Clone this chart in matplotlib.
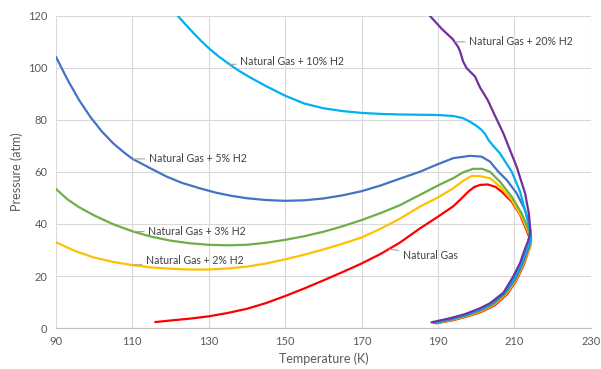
import matplotlib.pyplot as plt

plt.rcParams['font.family'] = ['Lato', 'DejaVu Sans']

# Natural Gas
ng_t = [116, 120, 125, 130, 135, 140, 145, 150, 155, 160, 165, 170, 175, 180, 185.3, 190, 194, 196,
        198, 199.5, 201, 203, 205, 206.7, 209.3, 211.5, 213, 213.9, 214.3, 214.1, 213.6, 212.5, 210.5,
        208.1, 204.8, 201, 197, 193.9, 189.5]
ng_p = [2.3, 2.9, 3.6, 4.5, 5.8, 7.4, 9.6, 12.3, 15.2, 18.3, 21.5, 24.8, 28.5, 32.8, 38.3, 42.8, 46.8, 49.6,
        52.5, 54.2, 55, 55.2, 54.3, 52.4, 48.6, 43.5, 38.3, 35, 33, 31, 29.3, 24.5, 18.2,
        13, 8.7, 6, 4.2, 3, 1.8]

# Natural Gas + 2% H2
h2_t = [90, 95, 100, 105, 110, 115, 120, 125, 130, 135, 140, 145, 150, 155, 160, 165, 170, 175,
        180, 185.3, 190, 194, 196.5, 198.8, 201, 203.6, 206.2, 209.3, 211.9, 213.6, 214.4, 214.1,
        213.6, 212.4, 210.4, 208, 204.6, 201, 197, 193.7, 189.4]
h2_p = [33, 29.6, 27.1, 25.4, 24.2, 23.3, 22.8, 22.5, 22.5, 22.9, 23.6, 24.8, 26.4, 28.2, 30.2, 32.4, 34.8, 38.2,
        42, 46.7, 50.2, 53.7, 56.5, 58.5, 58.4, 57.6, 54.5, 49.2, 42.8, 37, 33.5, 31,
        29.6, 24.8, 18.4, 13.3, 8.9, 6.3, 4.4, 3.1, 1.9]

# Natural Gas + 3% H2
h3_t = [90, 93, 96, 100, 105, 110, 115, 120, 125, 130, 135, 140, 145, 150, 155, 160, 165, 170, 175,
        180, 185.3, 190, 194, 196.5, 199.2, 201.5, 203.6, 206.2, 209.3, 211.9, 213.5, 214.4, 214,
        213.5, 212.3, 210.3, 207.8, 204.4, 201, 197, 193.5, 189.2]
h3_p = [53.5, 49.5, 46.5, 43.3, 39.9, 37.2, 35.1, 33.6, 32.6, 32, 31.8, 32, 32.8, 33.9, 35.3, 37, 39.1, 41.5, 44.2,
        47.2, 51.2, 54.8, 57.6, 59.8, 61.2, 61.2, 60.1, 56.3, 50.5, 44.1, 38.5, 34, 31.5,
        29.8, 25, 18.7, 13.5, 9.1, 6.6, 4.6, 3.2, 1.9]

# Natural Gas + 5% H2
h5_t = [90, 93, 96, 99, 102, 105, 108, 110.1, 115, 119, 123, 127.7, 132, 136, 140, 145, 150, 155, 160, 165,
        170, 175, 180, 185.3, 190, 194, 198.4, 201.4, 203.6, 205.8, 208, 210.6, 212.8, 214, 214.4,
        213.9, 213.4, 212.2, 210.2, 207.7, 204.2, 201, 197, 193.3, 189]
h5_p = [104.3, 95.6, 87.8, 81.2, 75.6, 71, 67.3, 65, 61.2, 58.2, 55.8, 53.7, 52, 50.8, 49.9, 49.2, 48.9, 49.1, 49.8, 51,
        52.6, 54.8, 57.4, 60.1, 63, 65.3, 66.2, 65.9, 64, 60.1, 56.9, 51.8, 45.4, 39.5, 35,
        32, 30, 25.3, 19, 13.8, 9.3, 7, 4.8, 3.4, 2]

# Natural Gas + 10% H2
h10_t = [121.9, 124, 126, 128, 130, 132.5, 135.5, 138, 141, 145, 150, 155, 160, 165, 170, 175, 180,
         185, 190, 194, 196.5, 198.4, 200, 201.4, 202.4, 203.2, 204.5, 206.2, 209.3, 211.5, 213, 213.9,
         214.3, 213.8, 213.2, 212, 210, 207.5, 204, 201, 197, 193, 188.8]
h10_p = [120, 116.6, 113.4, 110.4, 107.6, 104.5, 101.3, 98.8, 96.2, 93, 89.3, 86.3, 84.5, 83.4, 82.7, 82.3, 82.1,
         82, 81.9, 81.5, 80.7, 79.3, 77.8, 76.2, 74.5, 72.3, 70, 67.2, 60.1, 52.4, 44.1, 38.5,
         35, 32, 30, 25.5, 19.2, 14, 9.5, 7.2, 5, 3.5, 2]

# Natural Gas + 20% H2
h20_t = [187.9, 191, 193.9, 195.3, 195.8, 196.6, 197.5, 198.6, 199.7, 201, 203, 205, 207.1, 210.6, 212.8,
         213.8, 214.2, 213.6, 212.8, 211.5, 209.7, 207.1, 203.6, 201, 197, 193, 188.3]
h20_p = [120, 115, 111, 108, 106.3, 102.4, 99.9, 98.3, 96.7, 92.5, 87.7, 81.4, 74.9, 62, 51.8,
         44, 37, 33.5, 30.5, 25, 19.8, 13.5, 9.5, 7.6, 5.3, 3.7, 2.2]

series = [
    (ng_t, ng_p, '#FF0000'),
    (h2_t, h2_p, '#FFC000'),
    (h3_t, h3_p, '#70AD47'),
    (h5_t, h5_p, '#4472C4'),
    (h10_t, h10_p, '#00B0F0'),
    (h20_t, h20_p, '#7030A0'),
]

labels = ['Natural Gas', 'Natural Gas + 2% H2', 'Natural Gas + 3% H2',
          'Natural Gas + 5% H2', 'Natural Gas + 10% H2', 'Natural Gas + 20% H2']
# (point on curve, text position)
label_pts = [(177.3, 30.3), (110.2, 24.2), (110.5, 37.1), (110.2, 65.0), (135.5, 101.3), (194.5, 110)]
label_txt = [(180.8, 28), (113.6, 25.8), (114.2, 37), (114.3, 65.2), (138.3, 102.4), (198.2, 110)]

fig = plt.figure(figsize=(6.01, 3.69), dpi=100)
ax = fig.add_axes([0.093, 0.111, 0.890, 0.846])

for t, p, c in series:
    ax.plot(t, p, color=c, lw=1.6, solid_capstyle='round', solid_joinstyle='round')

for lab, (px, py), (tx, ty) in zip(labels, label_pts, label_txt):
    ax.annotate(lab, xy=(px, py), xytext=(tx, ty), fontsize=7.6, color='#404040',
                va='center', ha='left',
                arrowprops=dict(arrowstyle='-', color='#a6a6a6', lw=0.8, shrinkA=1, shrinkB=0))

ax.set_xlim(90, 230)
ax.set_ylim(0, 120)
ax.set_xticks(range(90, 231, 20))
ax.set_yticks(range(0, 121, 20))
ax.grid(True, color='#d9d9d9', lw=0.8)
ax.set_axisbelow(True)
for s in ['top', 'right', 'left']:
    ax.spines[s].set_visible(False)
ax.spines['bottom'].set_color('#bfbfbf')
ax.tick_params(length=0, labelsize=8, colors='#595959', pad=6)
ax.set_xlabel('Temperature (K)', fontsize=9, color='#595959', labelpad=4)
ax.set_ylabel('Pressure (atm)', fontsize=9, color='#595959', labelpad=4)

fig.savefig('out.png', dpi=100)
